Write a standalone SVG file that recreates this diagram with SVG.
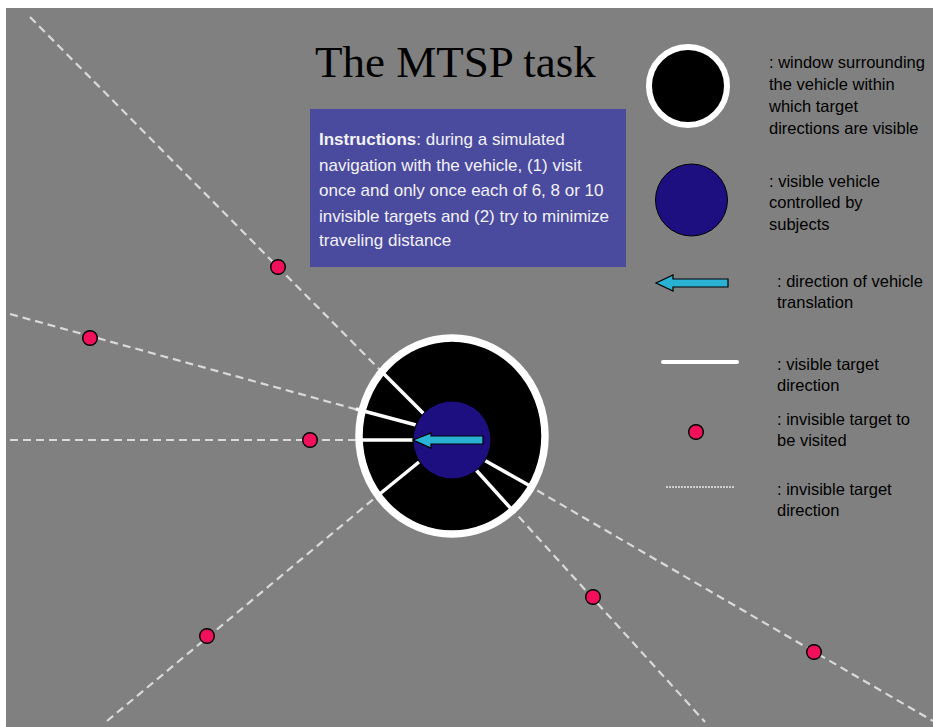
<svg xmlns="http://www.w3.org/2000/svg" width="933" height="727" viewBox="0 0 933 727">
<defs>
<style>
.dash{stroke:#d9d9d9;stroke-width:2.2;stroke-dasharray:8 5;fill:none}
.vis{stroke:#ffffff;stroke-width:3.5;stroke-linecap:butt;fill:none}
.tgt{fill:#f0105c;stroke:#000;stroke-width:1.4}
.leg{font-family:"Liberation Sans",Arial,sans-serif;font-size:16.5px;fill:#000}
.ins{font-family:"Liberation Sans",Arial,sans-serif;font-size:17px;fill:#f2f2f8}
.arrow{fill:#2ab2d4;stroke:#000;stroke-width:1.2;stroke-linejoin:miter}
</style>
</defs>
<rect x="0" y="0" width="933" height="727" fill="#ffffff"/>
<rect x="6" y="8" width="927" height="719" fill="#808080"/>

<g id="connectors">
<line class="dash" x1="30" y1="17" x2="386" y2="376"/>
<line class="dash" x1="10" y1="314" x2="362" y2="411"/>
<line class="dash" x1="10" y1="440" x2="362" y2="440"/>
<line class="dash" x1="107" y1="721" x2="382" y2="492"/>
<line class="dash" x1="510" y1="507" x2="705" y2="722"/>
<line class="dash" x1="526" y1="484" x2="933" y2="721"/>
</g>

<g id="window">
<ellipse cx="452" cy="436" rx="93" ry="98" fill="#000" stroke="#fff" stroke-width="7.5"/>
</g>

<g id="visible-directions">
<line class="vis" x1="380" y1="370" x2="424" y2="414"/>
<line class="vis" x1="356" y1="409" x2="416" y2="425"/>
<line class="vis" x1="356" y1="440" x2="414" y2="440"/>
<line class="vis" x1="376" y1="497" x2="419" y2="462"/>
<line class="vis" x1="476" y1="470" x2="514" y2="512"/>
<line class="vis" x1="484" y1="460" x2="532" y2="487"/>
</g>

<g id="vehicle">
<circle cx="452" cy="440" r="39" fill="#1d0f80" stroke="#000" stroke-width="1"/>
<polygon class="arrow" points="413,440 431,433 431,436 483,436 483,444 431,444 431,448"/>
</g>

<g id="targets">
<circle class="tgt" cx="278" cy="267" r="7.3"/>
<circle class="tgt" cx="90" cy="338" r="7.3"/>
<circle class="tgt" cx="310" cy="440" r="7.3"/>
<circle class="tgt" cx="207" cy="636" r="7.3"/>
<circle class="tgt" cx="593" cy="597" r="7.3"/>
<circle class="tgt" cx="814" cy="652" r="7.3"/>
</g>

<g id="title">
<text x="315" y="77" font-family="'Liberation Serif','Times New Roman',serif" font-size="45" fill="#000">The MTSP task</text>
</g>

<g id="instructions">
<rect x="310" y="109" width="316" height="158" fill="#4a4a9e"/>
<text class="ins" x="319" y="145"><tspan font-weight="bold">Instructions</tspan>: during a simulated</text>
<text class="ins" x="319" y="170.5">navigation with the vehicle, (1) visit</text>
<text class="ins" x="319" y="196">once and only once each of 6, 8 or 10</text>
<text class="ins" x="319" y="221.5">invisible targets and (2) try to minimize</text>
<text class="ins" x="319" y="246">traveling distance</text>
</g>

<g id="legend-window">
<circle cx="688" cy="86" r="39" fill="#000" stroke="#fff" stroke-width="6"/>
<text class="leg" x="769" y="68">: window surrounding</text>
<text class="leg" x="769" y="90">the vehicle within</text>
<text class="leg" x="769" y="112">which target</text>
<text class="leg" x="769" y="134">directions are visible</text>
</g>

<g id="legend-vehicle">
<circle cx="691.5" cy="200" r="36" fill="#1d0f80" stroke="#000" stroke-width="1"/>
<text class="leg" x="769" y="187">: visible vehicle</text>
<text class="leg" x="769" y="208">controlled by</text>
<text class="leg" x="769" y="230">subjects</text>
</g>

<g id="legend-arrow">
<polygon class="arrow" points="656,283 673,275 673,279 728,279 728,287 673,287 673,291"/>
<text class="leg" x="777" y="287">: direction of vehicle</text>
<text class="leg" x="777" y="308">translation</text>
</g>

<g id="legend-visible">
<line x1="663" y1="362" x2="737" y2="362" stroke="#fff" stroke-width="4" stroke-linecap="round"/>
<text class="leg" x="777" y="370">: visible target</text>
<text class="leg" x="777" y="391">direction</text>
</g>

<g id="legend-target">
<circle class="tgt" cx="696" cy="432" r="7.3"/>
<text class="leg" x="777" y="425">: invisible target to</text>
<text class="leg" x="777" y="446">be visited</text>
</g>

<g id="legend-invisible">
<line x1="666" y1="487" x2="735" y2="487" stroke="#e6e6e6" stroke-width="1.5" stroke-dasharray="2 1"/>
<text class="leg" x="777" y="495">: invisible target</text>
<text class="leg" x="777" y="516">direction</text>
</g>
</svg>
